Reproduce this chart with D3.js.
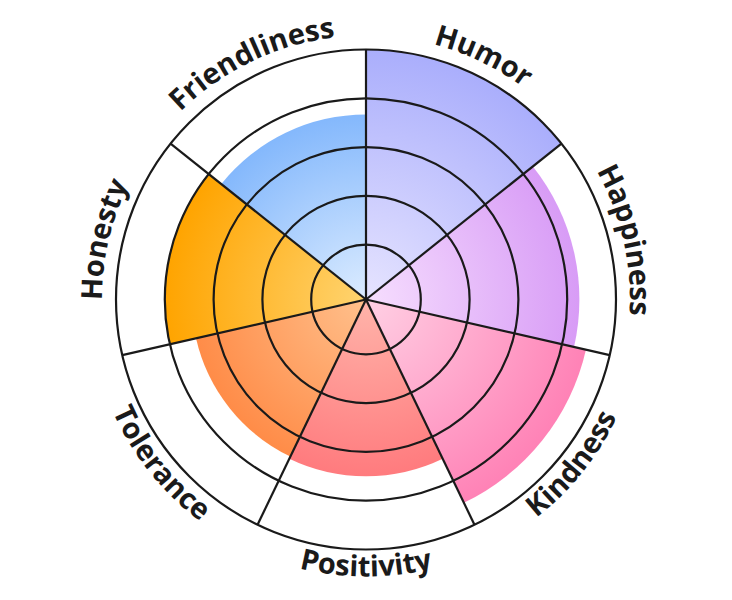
<!DOCTYPE html>
<html>
<head>
<meta charset="utf-8">
<script src="https://cdn.jsdelivr.net/npm/d3@7"></script>
<style>
  body { margin: 0; background: #fff; }
  svg { display: block; }
</style>
</head>
<body>
<div id="chart"></div>
<script>
const traits = ["Humor", "Happiness", "Kindness", "Positivity", "Tolerance", "Honesty", "Friendliness"];
const scores = [5, 4.25, 4.5, 3.5, 3.45, 4, 3.67];
const colorsFull = ["#aaaefc", "#d89cf6", "#ff82b6", "#ff7b7e", "#ff8c48", "#ffa400", "#84b8fc"];
const colorsLight = ["#e6e4ff", "#f6defe", "#ffd0e4", "#ffb4aa", "#ffc08c", "#ffd470", "#dcecff"];
const ringTicks = [1, 2, 3, 4, 5];

const width = 732, height = 600;
const cx = 366, cy = 299.5;

const svg = d3.select("#chart").append("svg")
    .attr("width", width)
    .attr("height", height);

const g = svg.append("g").attr("transform", `translate(${cx},${cy})`);

// angular + radial scales
const angle = d3.scaleBand().domain(traits).range([0, 2 * Math.PI]).padding(0);
const r = d3.scaleLinear().domain([0, 5]).range([6, 250]);
const R = r(5);

// gradients, one per sector
const defs = svg.append("defs");
traits.forEach((t, i) => {
    const grad = defs.append("radialGradient")
        .attr("id", "grad" + i)
        .attr("gradientUnits", "userSpaceOnUse")
        .attr("cx", 0).attr("cy", 0)
        .attr("r", r(scores[i]));
    grad.append("stop").attr("offset", "0%").attr("stop-color", colorsLight[i]);
    grad.append("stop").attr("offset", "100%").attr("stop-color", colorsFull[i]);
});

const arc = d3.arc()
    .innerRadius(0)
    .outerRadius(d => r(d.v))
    .startAngle(d => angle(d.t))
    .endAngle(d => angle(d.t) + angle.bandwidth());

const data = traits.map((t, i) => ({ t: t, v: scores[i], i: i }));

g.selectAll(".sector")
    .data(data)
    .enter().append("path")
    .attr("class", "sector")
    .attr("d", arc)
    .attr("fill", d => `url(#grad${d.i})`);

// rings
g.selectAll(".ring")
    .data(ringTicks)
    .enter().append("circle")
    .attr("class", "ring")
    .attr("r", d => r(d))
    .attr("fill", "none")
    .attr("stroke", "#1a1a1a")
    .attr("stroke-width", 2.2);

// spokes
g.selectAll(".spoke")
    .data(traits)
    .enter().append("line")
    .attr("class", "spoke")
    .attr("x1", 0).attr("y1", 0)
    .attr("x2", d => R * Math.sin(angle(d)))
    .attr("y2", d => -R * Math.cos(angle(d)))
    .attr("stroke", "#1a1a1a")
    .attr("stroke-width", 2.2);

// curved labels
function pt(rad, a) {
    return [rad * Math.sin(a), -rad * Math.cos(a)];
}
data.forEach(d => {
    const mid = angle(d.t) + angle.bandwidth() / 2;
    const bottom = mid > Math.PI / 2 && mid < 3 * Math.PI / 2;
    const span = 80 * Math.PI / 180;
    let p;
    if (!bottom) {
        const rad = 264;
        const s = pt(rad, mid - span), e = pt(rad, mid + span);
        p = `M${s[0]},${s[1]} A${rad},${rad} 0 0 1 ${e[0]},${e[1]}`;
    } else {
        const rad = 277;
        const s = pt(rad, mid + span), e = pt(rad, mid - span);
        p = `M${s[0]},${s[1]} A${rad},${rad} 0 0 0 ${e[0]},${e[1]}`;
    }
    defs.append("path").attr("id", "lp" + d.i).attr("d", p);
    g.append("text")
        .attr("font-family", "'Open Sans', 'Noto Sans', sans-serif")
        .attr("font-weight", 700)
        .attr("font-size", 29)
        .attr("fill", "#1a1a1a")
        .append("textPath")
        .attr("href", "#lp" + d.i)
        .attr("startOffset", "50%")
        .attr("text-anchor", "middle")
        .text(d.t);
});
</script>
</body>
</html>
